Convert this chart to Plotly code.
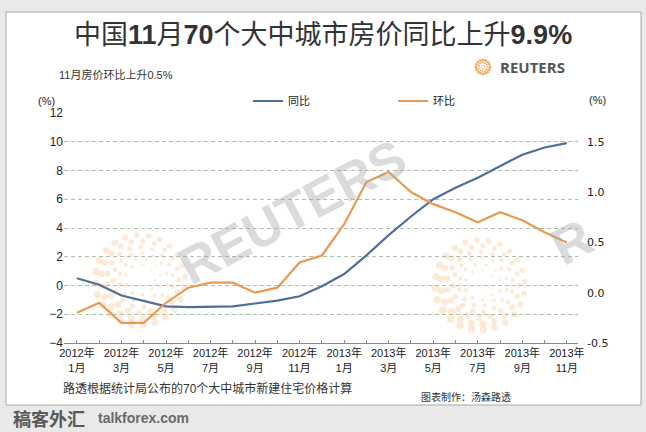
import numpy as np
import plotly.graph_objects as go

# ---------------- data ----------------
months = ["2012年<br>1月", "2012年<br>2月", "2012年<br>3月", "2012年<br>4月", "2012年<br>5月",
          "2012年<br>6月", "2012年<br>7月", "2012年<br>8月", "2012年<br>9月", "2012年<br>10月",
          "2012年<br>11月", "2012年<br>12月", "2013年<br>1月", "2013年<br>2月", "2013年<br>3月",
          "2013年<br>4月", "2013年<br>5月", "2013年<br>6月", "2013年<br>7月", "2013年<br>8月",
          "2013年<br>9月", "2013年<br>10月", "2013年<br>11月"]
yoy = [0.5, 0.05, -0.7, -1.1, -1.45, -1.5, -1.5, -1.45, -1.25, -1.05, -0.75, -0.05,
       0.8, 2.1, 3.5, 4.8, 6.0, 6.8, 7.5, 8.3, 9.1, 9.6, 9.9]
mom = [-0.2, -0.1, -0.3, -0.3, -0.1, 0.05, 0.1, 0.1, 0.0, 0.05, 0.3, 0.37,
       0.68, 1.1, 1.2, 1.0, 0.88, 0.8, 0.7, 0.8, 0.72, 0.6, 0.5]
left_ticks = [-4, -2, 0, 2, 4, 6, 8, 10, 12]
right_ticks = [-0.5, 0.0, 0.5, 1.0, 1.5]
right_ticktext = ["-0.5", "0.0", "0.5", "1.0", "1.5"]

W, H = 646, 432
PL, PR, PT, PB = 64, 578, 113, 343  # plot area in pixels

def px(x):
    return (x - PL) / (PR - PL)

def py(y):
    return (PB - y) / (PB - PT)

xi = list(range(len(months)))
XR = [-0.58, 22.5]
YR = [-4, 12]
Y2R = [-0.5, -0.5 + 16 / 7]

def pix2data(x, y):
    dx = XR[0] + (x - PL) / (PR - PL) * (XR[1] - XR[0])
    dy = YR[0] + (PB - y) / (PB - PT) * (YR[1] - YR[0])
    return dx, dy

# decorative dotted logo rings (Reuters emblem), in pixel space then converted
def logo_dots(cx, cy):
    xs, ys, ss = [], [], []
    for k, r in enumerate([15, 21, 27, 33, 39, 45]):
        n = 9 + k * 3
        for j in range(n):
            a = 2 * np.pi * j / n + k * 0.3
            x, y = pix2data(cx + r * np.cos(a), cy + r * np.sin(a))
            xs.append(x); ys.append(y)
            ss.append(2.0 + k * 0.7 + 2.2 * (0.5 + 0.5 * np.cos(a - 2.4)))
    return xs, ys, ss

fig = go.Figure()
for cx, cy in [(140, 280), (480, 285)]:
    dx, dy, ds = logo_dots(cx, cy)
    fig.add_trace(go.Scatter(x=dx, y=dy, mode="markers", showlegend=False, hoverinfo="skip",
                             marker=dict(size=ds, color="rgba(242,175,105,0.38)", line=dict(width=0))))

fig.add_trace(go.Scatter(x=xi, y=yoy, name="同比", mode="lines",
                         line=dict(color="#4c6f9c", width=2.2)))
fig.add_trace(go.Scatter(x=xi, y=mom, name="环比", mode="lines", yaxis="y2",
                         line=dict(color="#e89a52", width=2.2)))

font_fam = "Liberation Sans, Noto Sans CJK SC, sans-serif"

shapes = [
    dict(type="rect", xref="paper", yref="paper", x0=px(6), x1=px(641), y0=py(405), y1=py(12),
         fillcolor="white", line=dict(color="#a8a8a8", width=1), layer="below"),
]

annotations = [
    dict(text="中国<b>11</b>月<b>70</b>个大中城市房价同比上升<b>9.9%</b>", x=px(323), y=py(35),
         xref="paper", yref="paper", showarrow=False, xanchor="center", yanchor="middle",
         font=dict(size=27, color="#333333", family=font_fam)),
    dict(text="11月房价环比上升0.5%", x=px(57), y=py(75), xref="paper", yref="paper",
         showarrow=False, xanchor="left", yanchor="middle",
         font=dict(size=11, color="#333333", family=font_fam)),
    dict(text="<b>REUTERS</b>", x=px(498), y=py(67), xref="paper", yref="paper",
         showarrow=False, xanchor="left", yanchor="middle",
         font=dict(size=15, color="#555555", family="Open Sans, Liberation Sans")),
    dict(text="(%)", x=px(46), y=py(101), xref="paper", yref="paper", showarrow=False,
         xanchor="center", yanchor="middle", font=dict(size=11, color="#222", family=font_fam)),
    dict(text="(%)", x=px(597), y=py(100), xref="paper", yref="paper", showarrow=False,
         xanchor="center", yanchor="middle", font=dict(size=11, color="#222", family=font_fam)),
    dict(text="<b>REUTERS</b>", x=px(292), y=py(212), xref="paper", yref="paper", showarrow=False,
         textangle=-28, xanchor="center", yanchor="middle",
         font=dict(size=52, color="rgba(165,165,165,0.40)", family="Liberation Sans")),
    dict(text="<b>R</b>", x=px(572), y=py(242), xref="paper", yref="paper", showarrow=False,
         textangle=-28, xanchor="center", yanchor="middle",
         font=dict(size=52, color="rgba(165,165,165,0.40)", family="Liberation Sans")),
    dict(text="路透根据统计局公布的70个大中城市新建住宅价格计算", x=px(61), y=py(388),
         xref="paper", yref="paper", showarrow=False, xanchor="left", yanchor="middle",
         font=dict(size=12, color="#333333", family=font_fam)),
    dict(text="图表制作：汤森路透", x=px(466), y=py(397), xref="paper", yref="paper",
         showarrow=False, xanchor="center", yanchor="middle",
         font=dict(size=10, color="#333333", family=font_fam)),
    dict(text="<b>稿客外汇</b>", x=px(11), y=py(418), xref="paper", yref="paper",
         showarrow=False, xanchor="left", yanchor="middle",
         font=dict(size=18, color="#5a5a5a", family="Noto Sans CJK SC")),
    dict(text="<b>talkforex.com</b>", x=px(96), y=py(418), xref="paper", yref="paper",
         showarrow=False, xanchor="left", yanchor="middle",
         font=dict(size=14, color="#6a6a6a", family="Liberation Sans")),
]

# small orange emblem beside REUTERS wordmark
for k, r in enumerate([2, 4.5, 7]):
    n = 6 + k * 5
    for j in range(n):
        a = 2 * np.pi * j / n
        d = 0.6 + 0.4 * k
        shapes.append(dict(type="circle", xref="paper", yref="paper",
                           x0=px(483 + r * np.cos(a) - d), x1=px(483 + r * np.cos(a) + d),
                           y0=py(67 + r * np.sin(a) + d), y1=py(67 + r * np.sin(a) - d),
                           fillcolor="rgba(238,150,60,0.8)", line=dict(width=0)))

fig.update_layout(
    width=W, height=H,
    margin=dict(l=PL, r=W - PR, t=PT, b=H - PB, pad=0),
    paper_bgcolor="#e9e9e9",
    plot_bgcolor="white",
    font=dict(family=font_fam, size=11, color="#222222"),
    showlegend=True,
    legend=dict(orientation="h", x=px(248), y=py(101), xref="paper", yref="paper",
                xanchor="left", yanchor="middle", bgcolor="rgba(0,0,0,0)",
                entrywidth=100, entrywidthmode="pixels", itemwidth=30,
                font=dict(size=11, color="#222", family=font_fam)),
    xaxis=dict(range=XR, tickmode="array", tickvals=xi,
               ticktext=[m if i % 2 == 0 else "" for i, m in enumerate(months)],
               showgrid=False, zeroline=False, showline=True, linecolor="#8a8a8a", linewidth=1,
               ticks="inside", ticklen=3, tickcolor="#8a8a8a",
               tickfont=dict(size=11, color="#222", family=font_fam)),
    yaxis=dict(range=YR, tickmode="array", tickvals=left_ticks, showline=False, zeroline=False,
               showgrid=True, gridcolor="#a9bfa9", griddash="4px,3px", gridwidth=1,
               ticks="", tickfont=dict(size=12, color="#222", family="Liberation Sans")),
    yaxis2=dict(range=Y2R, overlaying="y", side="right", tickmode="array", tickvals=right_ticks,
                ticktext=right_ticktext, showgrid=False, zeroline=False, showline=False, ticks="",
                ticklabelstandoff=8,
                tickfont=dict(size=11, color="#222", family="DejaVu Sans")),
    shapes=shapes,
    annotations=annotations,
)

fig.write_html("out.html", config={"displayModeBar": False},
               post_script="document.body.style.margin='0';document.body.style.overflow='hidden';")
